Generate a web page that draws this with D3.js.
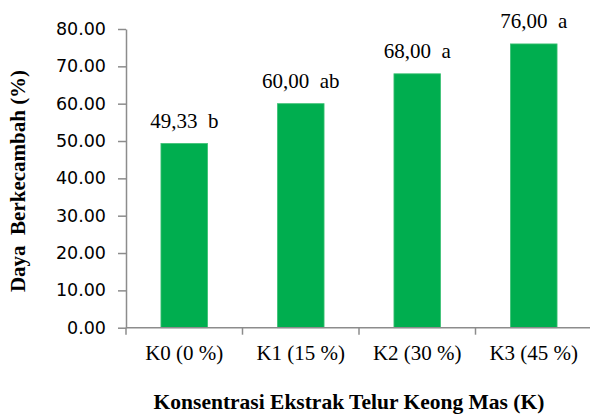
<!DOCTYPE html>
<html>
<head>
<meta charset="utf-8">
<script src="https://cdn.jsdelivr.net/npm/d3@7"></script>
<style>
  body { margin: 0; background: #fff; }
  svg { display: block; }
  .serif { font-family: "Liberation Serif", "Times New Roman", serif; }
  .sans { font-family: "DejaVu Sans", Verdana, sans-serif; }
</style>
</head>
<body>
<svg id="chart" width="590" height="414"></svg>
<script>
const categories = ["K0 (0 %)", "K1 (15 %)", "K2 (30 %)", "K3 (45 %)"];
const values = [49.33, 60.00, 68.00, 76.00];
const valueLabels = ["49,33  b", "60,00  ab", "68,00  a", "76,00  a"];
const yTicks = [0, 10, 20, 30, 40, 50, 60, 70, 80];
const xTitle = "Konsentrasi Ekstrak Telur Keong Mas (K)";
const yTitle = "Daya  Berkecambah (%)";

const svg = d3.select("#chart");
const margin = { left: 126, right: -2, top: 29, bottom: 86 };
const W = 590, H = 414;

const x = d3.scaleBand().domain(categories)
  .range([margin.left, W - margin.right]).paddingInner(0.6).paddingOuter(0.3);
const y = d3.scaleLinear().domain([0, 80]).range([H - margin.bottom - 0.3, margin.top]);

// bars
svg.append("g").selectAll("rect").data(values).join("rect")
  .attr("x", (d, i) => x(categories[i]))
  .attr("y", d => y(d))
  .attr("width", x.bandwidth())
  .attr("height", d => y(0) - y(d))
  .attr("fill", "#00AE4F")
  .attr("stroke", "#3cc174").attr("stroke-width", 0.8);

// y axis
const yAxis = d3.axisLeft(y).tickValues(yTicks).tickFormat(d3.format(".2f")).tickSize(8).tickSizeOuter(0).tickPadding(12);
const gy = svg.append("g").attr("transform", `translate(${margin.left},0)`).call(yAxis);
gy.attr("font-family", null).attr("font-size", null);
gy.select(".domain").attr("stroke", "#8c8c8c").attr("stroke-width", 1.5);
gy.selectAll(".tick line").attr("stroke", "#8c8c8c").attr("stroke-width", 1.5);
gy.selectAll(".tick text").attr("class", "sans")
  .attr("font-size", 17.5).attr("fill", "#000");

// x axis
const gx = svg.append("g").attr("transform", `translate(0,${y(0)})`);
gx.append("line").attr("x1", margin.left).attr("x2", W).attr("y1", 0).attr("y2", 0)
  .attr("stroke", "#8c8c8c").attr("stroke-width", 1.5);
const boundaries = d3.range(categories.length + 1).map(i => margin.left + i * (W - margin.right - margin.left) / categories.length);
gx.selectAll("line.tk").data(boundaries).join("line").attr("class", "tk")
  .attr("x1", d => d).attr("x2", d => d).attr("y1", 0).attr("y2", 7)
  .attr("stroke", "#8c8c8c").attr("stroke-width", 1.5);
gx.selectAll("text").data(categories).join("text")
  .attr("class", "serif")
  .attr("x", d => x(d) + x.bandwidth() / 2)
  .attr("y", 32.5)
  .attr("text-anchor", "middle")
  .attr("font-size", 21)
  .attr("fill", "#000")
  .text(d => d);

// value labels
svg.append("g").selectAll("text").data(values).join("text")
  .attr("class", "serif")
  .attr("x", (d, i) => x(categories[i]) + x.bandwidth() / 2)
  .attr("y", d => y(d) - 15.5)
  .attr("text-anchor", "middle")
  .attr("font-size", 21)
  .attr("fill", "#000")
  .style("white-space", "pre")
  .text((d, i) => valueLabels[i]);

// axis titles
svg.append("text")
  .attr("class", "serif")
  .attr("x", 349).attr("y", 409)
  .attr("text-anchor", "middle")
  .attr("font-weight", "bold").attr("font-size", 21.5)
  .text(xTitle);

svg.append("text")
  .attr("class", "serif")
  .attr("transform", "translate(25,181) rotate(-90)")
  .attr("text-anchor", "middle")
  .attr("font-weight", "bold").attr("font-size", 21)
  .style("white-space", "pre")
  .text(yTitle);
</script>
</body>
</html>
